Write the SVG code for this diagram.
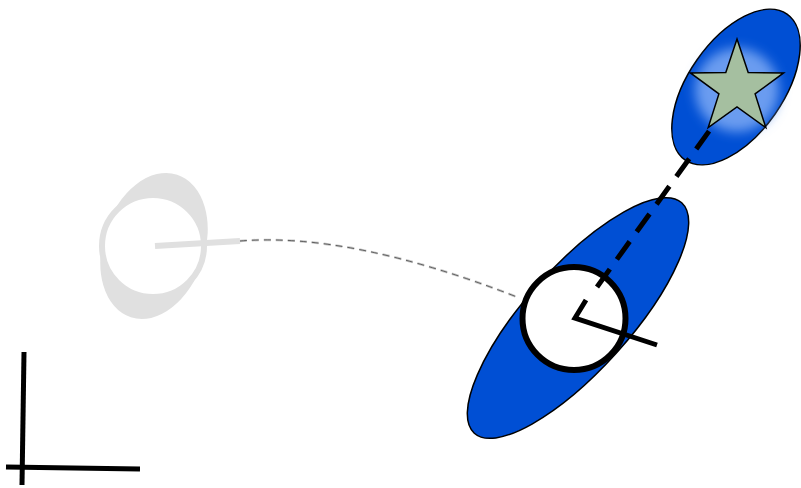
<svg xmlns="http://www.w3.org/2000/svg" width="801" height="488" viewBox="0 0 801 488">
  <style>
    .blue { fill: #004fd4; stroke: #000; stroke-width: 1.5; }
    .thick { fill: none; stroke: #000; stroke-width: 5; stroke-linecap: butt; }
    .ghost { fill: none; stroke: #e0e0e0; stroke-width: 6; }
  </style>
  <defs>
    <filter id="glow" x="-50%" y="-50%" width="200%" height="200%">
      <feGaussianBlur stdDeviation="6"/>
    </filter>
  </defs>
  <rect width="801" height="488" fill="#fff"/>

  <g id="ghost-node">
    <ellipse cx="154" cy="246" rx="51" ry="75" fill="#e0e0e0" transform="rotate(18 154 246)"/>
    <circle cx="153" cy="246" r="51" fill="#fff" stroke="#e0e0e0" stroke-width="6"/>
    <line x1="155" y1="246" x2="240" y2="241" class="ghost"/>
  </g>

  <g id="axes">
    <line x1="24" y1="352" x2="22" y2="485" class="thick"/>
    <line x1="6" y1="467" x2="140" y2="469" class="thick"/>
  </g>

  <g id="big-ellipse">
    <ellipse cx="578" cy="318" rx="155" ry="52" class="blue" transform="rotate(-48 578 318)"/>
  </g>

  <g id="star-ellipse">
    <ellipse cx="736" cy="87" rx="89" ry="47.5" class="blue" transform="rotate(-55 736 87)"/>
    <circle cx="737" cy="90" r="42" fill="#6a9cf0" filter="url(#glow)"/>
  </g>

  <g id="robot">
    <circle cx="574" cy="318.5" r="51.5" fill="#fff" stroke="#000" stroke-width="6"/>
    <polyline points="586,300 575,318 657,345" class="thick"/>
  </g>

  <g id="connectors">
    <path d="M240,241 Q350,232 517,297" fill="none" stroke="#c8c8c8" stroke-width="2.5" stroke-dasharray="7,5"/>
    <path d="M240,241 Q350,232 517,297" fill="none" stroke="#444" stroke-width="0.8" stroke-dasharray="7,5"/>
    <line x1="597" y1="287" x2="712" y2="127" stroke="#000" stroke-width="5" stroke-dasharray="22,12"/>
  </g>

  <g id="star">
    <polygon points="737,39 748.2,72.6 783.6,72.9 755.1,93.9 765.8,127.6 737,107 708.2,127.6 718.9,93.9 690.4,72.9 725.8,72.6" fill="#a5bfa0" stroke="#000" stroke-width="1.5" stroke-linejoin="miter"/>
  </g>
</svg>
